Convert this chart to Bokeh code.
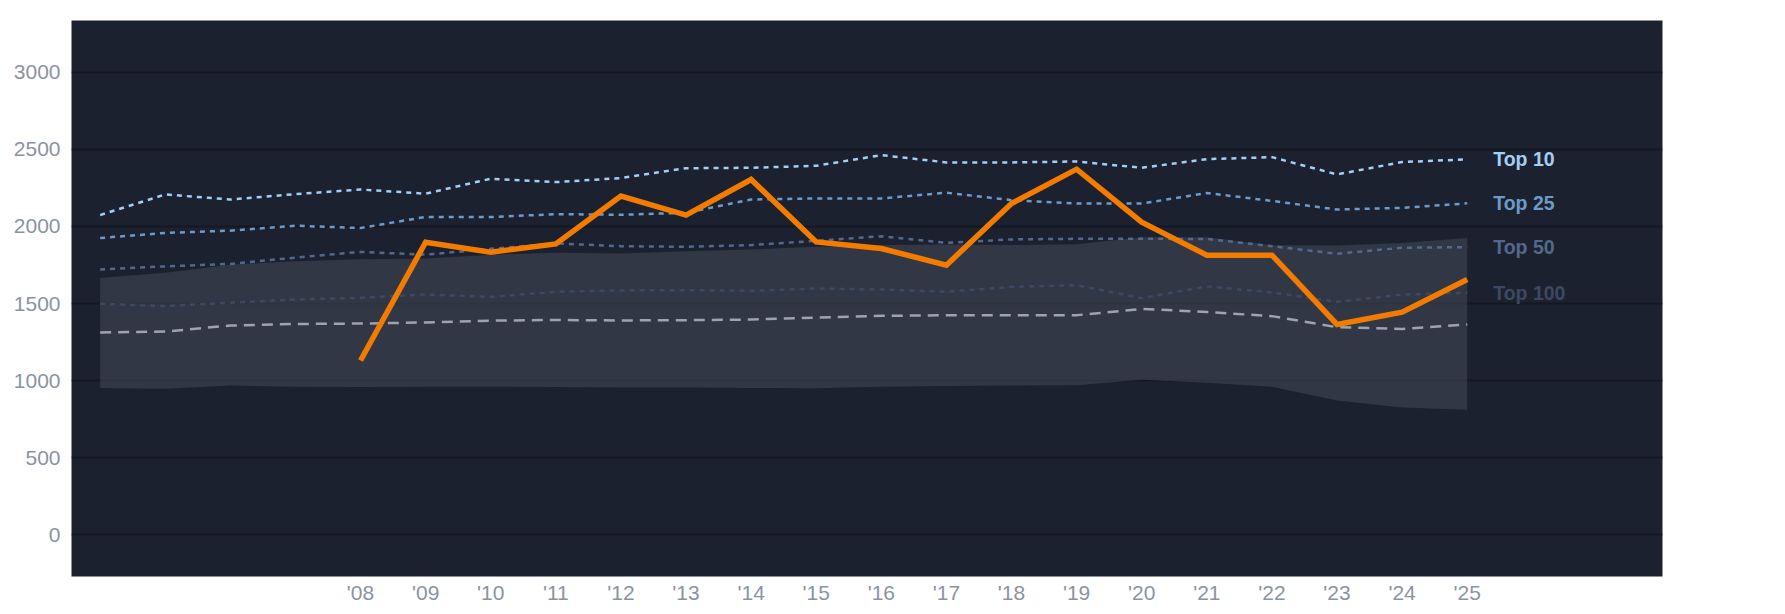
from bokeh.plotting import figure
from bokeh.models import FixedTicker, ColumnDataSource, Range1d
from bokeh.core.properties import value
from bokeh.embed import file_html
from bokeh.resources import INLINE

years = list(range(2004, 2026))
top10 = [2074, 2208, 2175, 2210, 2240, 2213, 2310, 2288, 2314, 2378, 2381, 2394, 2463, 2416, 2416, 2422, 2381, 2437, 2450, 2338, 2418, 2436]
top25 = [1925, 1958, 1973, 2005, 1990, 2062, 2061, 2080, 2076, 2089, 2175, 2182, 2182, 2219, 2171, 2149, 2149, 2217, 2166, 2110, 2121, 2150]
top50 = [1721, 1741, 1757, 1798, 1835, 1817, 1855, 1890, 1872, 1868, 1879, 1907, 1937, 1894, 1916, 1920, 1920, 1919, 1872, 1823, 1862, 1866]
top100 = [1498, 1483, 1505, 1526, 1537, 1558, 1543, 1576, 1585, 1587, 1582, 1597, 1591, 1576, 1608, 1619, 1535, 1611, 1572, 1511, 1558, 1570]
median = [1312, 1318, 1357, 1367, 1370, 1377, 1389, 1393, 1390, 1392, 1396, 1409, 1420, 1424, 1424, 1424, 1465, 1445, 1418, 1346, 1335, 1364]
band_upper = [1665, 1700, 1752, 1774, 1787, 1792, 1817, 1830, 1825, 1840, 1851, 1868, 1879, 1883, 1879, 1885, 1930, 1930, 1878, 1876, 1893, 1925]
band_lower = [952, 946, 968, 960, 958, 960, 960, 958, 955, 955, 952, 950, 960, 965, 968, 970, 1005, 985, 960, 870, 825, 810]

team_years = list(range(2008, 2026))
team = [1130, 1898, 1833, 1887, 2197, 2074, 2305, 1900, 1857, 1749, 2149, 2372, 2028, 1814, 1814, 1364, 1444, 1656]

tick_years = list(range(2008, 2026))
tick_labels = ["'" + str(y)[2:] for y in tick_years]
y_ticks = [0, 500, 1000, 1500, 2000, 2500, 3000]

series_names = ["Top 10", "Top 25", "Top 50", "Top 100"]
series_values = [top10, top25, top50, top100]
series_colors = ["#a2cff3", "#6c9bc8", "#53688a", "#3c4961"]

BG = "#1c2130"
GRID = "#141822"
FONT = "Liberation Sans"

p = figure(width=1769, height=606, output_backend="svg", toolbar_location=None,
           x_range=Range1d(2003.56, 2028.0), y_range=Range1d(-272, 3337),
           min_border_left=71, min_border_right=107, min_border_top=20, min_border_bottom=25)
p.background_fill_color = BG
p.border_fill_color = "white"
p.outline_line_color = None

p.xgrid.grid_line_color = None
p.ygrid.grid_line_color = GRID
p.ygrid.grid_line_width = 2
p.ygrid.ticker = FixedTicker(ticks=y_ticks)

p.yaxis.ticker = FixedTicker(ticks=y_ticks)
p.xaxis.ticker = FixedTicker(ticks=tick_years)
p.xaxis.major_label_overrides = {y: l for y, l in zip(tick_years, tick_labels)}
for ax in (p.xaxis, p.yaxis):
    ax.axis_line_color = None
    ax.major_tick_line_color = None
    ax.minor_tick_line_color = None
    ax.major_tick_in = 0
    ax.major_tick_out = 0
    ax.major_label_text_font = FONT
    ax.major_label_text_font_size = "21px"
    ax.major_label_text_color = "#8b93a3"
p.yaxis.major_label_standoff = 11
p.xaxis.major_label_standoff = 4

src = ColumnDataSource(dict(x=years, lo=band_lower, hi=band_upper))
p.varea(x="x", y1="lo", y2="hi", source=src, fill_color="#484d5c", fill_alpha=0.5)

p.line(years, top100, line_color=series_colors[3], line_width=2.5, line_dash="5 5")
p.line(years, median, line_color="#9ea3ad", line_width=2.5, line_dash="11 7")
p.line(years, top50, line_color=series_colors[2], line_width=2.5, line_dash="5 5")
p.line(years, top25, line_color=series_colors[1], line_width=2.5, line_dash="5 5")
p.line(years, top10, line_color=series_colors[0], line_width=2.5, line_dash="5 5")

p.line(team_years, team, line_color="#f27b00", line_width=5.5, line_join="miter")

lab = ColumnDataSource(dict(x=[years[-1]] * 4, y=[v[-1] for v in series_values],
                            t=series_names, c=series_colors))
p.text(x="x", y="y", text="t", text_color="c", source=lab, x_offset=26,
       text_font=value(FONT), text_font_style="bold", text_font_size="19.5px",
       text_baseline="middle", text_align="left")

open("out.html", "w").write(file_html(p, INLINE))
